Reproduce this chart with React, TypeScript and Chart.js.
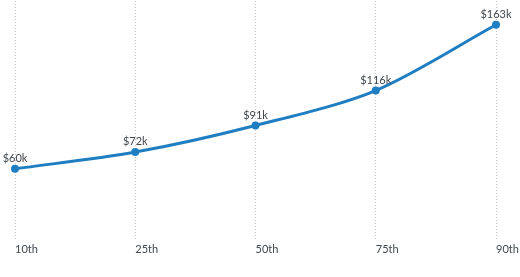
import React, { useEffect, useRef } from "react";
import { Chart, registerables } from "chart.js";

Chart.register(...registerables);

const categories = ["10th", "25th", "50th", "75th", "90th"];
const salaries = [60, 72, 91, 116, 163];
const pointLabels = ["$60k", "$72k", "$91k", "$116k", "$163k"];

const FONT = "Lato, 'Open Sans', sans-serif";

const labelPlugin = {
  id: "pointLabels",
  afterDatasetsDraw(chart: any) {
    const ctx = chart.ctx;
    const meta = chart.getDatasetMeta(0);
    ctx.save();
    ctx.font = `11px ${FONT}`;
    ctx.fillStyle = "#3f464d";
    ctx.textAlign = "center";
    ctx.textBaseline = "bottom";
    meta.data.forEach((pt: any, i: number) => {
      ctx.fillText(pointLabels[i], pt.x, pt.y - 5);
    });
    ctx.restore();
  },
};

export default function App() {
  const ref = useRef<HTMLCanvasElement>(null);
  useEffect(() => {
    const chart = new Chart(ref.current!, {
      type: "line",
      data: {
        labels: categories,
        datasets: [
          {
            data: salaries,
            borderColor: "#1f7ec2",
            backgroundColor: "#1f7ec2",
            borderWidth: 3,
            pointRadius: 4,
            pointBackgroundColor: "#1f7ec2",
            pointBorderWidth: 0,
            tension: 0.3,
            fill: false,
            clip: false,
          },
        ],
      },
      options: {
        animation: false,
        responsive: false,
        maintainAspectRatio: false,
        layout: { autoPadding: false, padding: { left: 15, right: 24, top: 1, bottom: 17 } },
        plugins: { legend: { display: false }, tooltip: { enabled: false } },
        scales: {
          x: {
            offset: false,
            border: { display: false, dash: [1, 2] },
            grid: {
              color: "#c4c4c4",
              lineWidth: 1,
              drawTicks: false,
            },
            ticks: {
              align: "start",
              padding: 4,
              color: "#3f464d",
              font: { family: FONT, size: 11 },
            },
            afterFit(scale: any) {
              scale.paddingLeft = 0;
              scale.paddingRight = 0;
            },
          },
          y: {
            display: false,
            min: 10,
            max: 180,
          },
        },
      },
      plugins: [labelPlugin],
    } as any);
    return () => chart.destroy();
  }, []);
  return (
    <div style={{ position: "fixed", left: 0, top: 0, width: 520, height: 277, background: "#fff" }}>
      <canvas ref={ref} width={520} height={277} />
    </div>
  );
}
